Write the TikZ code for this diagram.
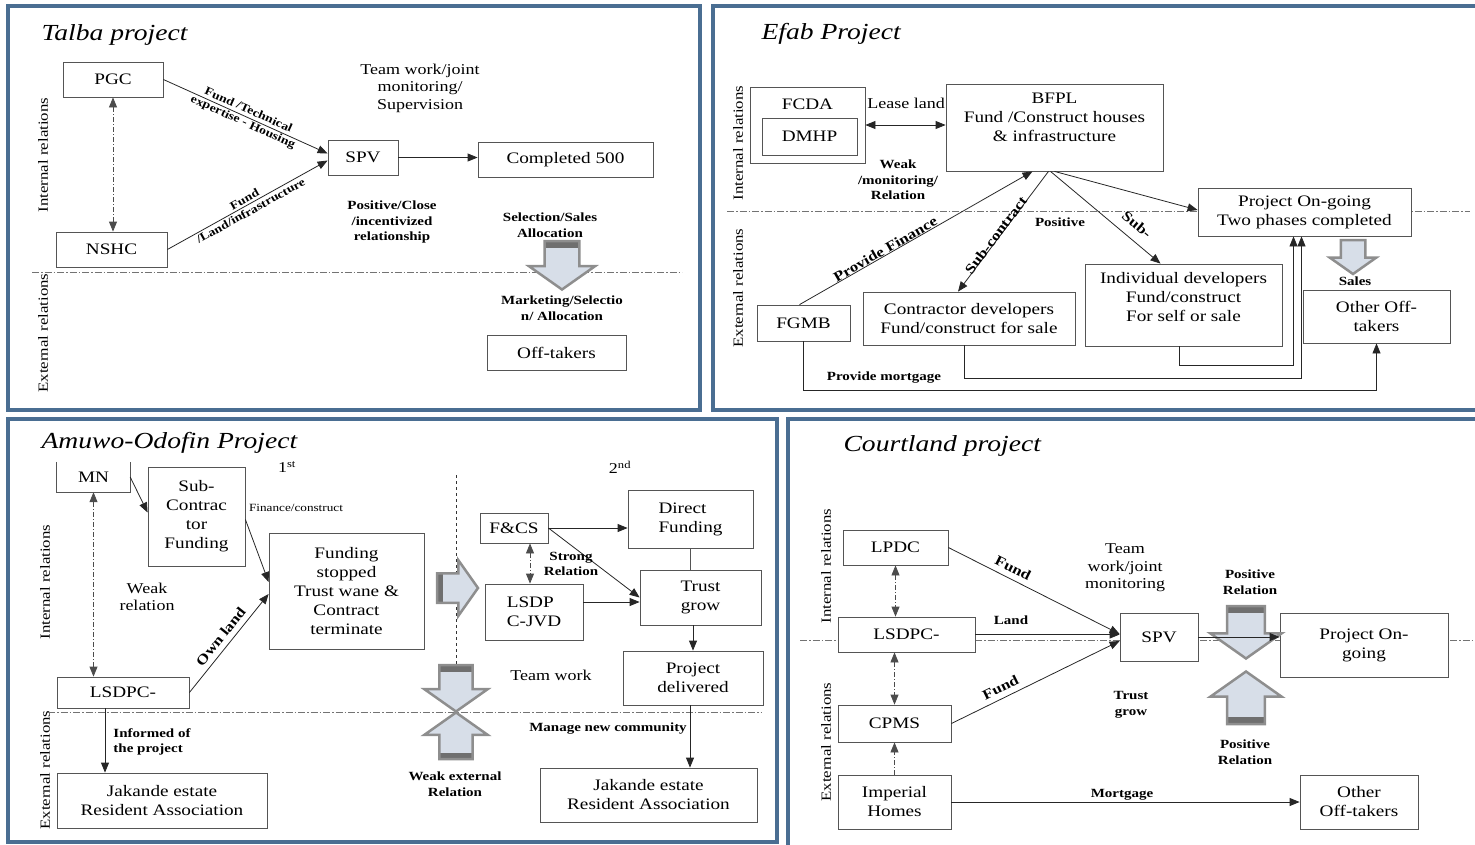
\documentclass[tikz,border=0pt]{standalone}
\usepackage{fontspec}
\setmainfont{Liberation Serif}[FakeStretch=1.2]
\usetikzlibrary{positioning, arrows.meta, calc}
\definecolor{FrameBlue}{HTML}{4A6E92}
\definecolor{ArrFill}{HTML}{D7DEE8}
\definecolor{ArrEdge}{HTML}{8E8E8E}
\definecolor{BandGray}{HTML}{6F6F6F}
\definecolor{BoxLine}{HTML}{555555}
\newcommand\boxfont{\fontsize{16}{19}\selectfont}
\newcommand\txtfont{\fontsize{15}{17.5}\selectfont}
\newcommand\lblfont{\fontsize{12.5}{15.5}\selectfont\bfseries}
\newcommand\slblfont{\fontsize{14}{16}\selectfont\bfseries}
\newcommand\flblfont{\fontsize{11.5}{13}\selectfont\bfseries}
\newcommand\finefont{\fontsize{11}{13}\selectfont}
\newcommand\ttlfont{\fontsize{23}{27}\selectfont\itshape}
\newcommand\relfont{\fontsize{14}{16}\selectfont}

\begin{document}
\begin{tikzpicture}[
  x=1pt, y=-1pt,
  box/.style={draw=BoxLine, fill=white, line width=0.8pt, align=center, font=\boxfont, inner sep=2pt},
  txt/.style={font=\txtfont, align=center},
  lbl/.style={font=\lblfont, align=center},
  slbl/.style={font=\slblfont, sloped, align=center},
  flbl/.style={font=\flblfont, sloped, align=center},
  ttl/.style={font=\ttlfont, anchor=west},
  rel/.style={font=\relfont, rotate=90},
  arr/.style={draw=black!85, line width=0.8pt, -{Triangle[length=10pt, width=8pt]}},
  darr/.style={draw=black!85, line width=0.8pt, {Triangle[length=10pt, width=8pt]}-{Triangle[length=10pt, width=8pt]}},
  dd/.style={darr, draw=black!70, dash pattern=on 5pt off 2pt on 1pt off 2pt},
  dd1/.style={arr, draw=black!70, dash pattern=on 5pt off 2pt on 1pt off 2pt},
  sep/.style={draw=black!55, line width=0.8pt, dash pattern=on 7pt off 2pt on 1.5pt off 2pt},
  frame/.style={draw=FrameBlue, line width=3.5pt},
  pics/blockarr/.style={code={
    \fill[ArrFill] (0,-18) -- (26,-18) -- (26,-34) -- (50,0) -- (26,34) -- (26,18) -- (0,18) -- cycle;
    \fill[#1] (0,-18) rectangle (7,18);
    \draw[ArrEdge, line width=2.5pt, line join=miter] (0,-18) -- (26,-18) -- (26,-34) -- (50,0) -- (26,34) -- (26,18) -- (0,18) -- cycle;
  }},
]
  \useasboundingbox (0,0) rectangle (1475,844);

  % Talba project
  \draw[frame] (8,6) rectangle (700,410);
  \node[ttl] (tTitle) at (38,35) {Talba project};
  \node[rel] (tIn) at (43,155) {Internal relations};
  \node[rel] (tEx) at (43,333) {External relations};
  \draw[sep] (32,272) -- (682,272);

  \node[box, minimum width=100pt, minimum height=35pt] (tPGC) at (113,79.5) {PGC};
  \node[box, minimum width=111pt, minimum height=35pt] (tNSHC) at (111.5,249.5) {NSHC};
  \node[box, minimum width=70pt, minimum height=35pt] (tSPV) at (363,157.5) {SPV};
  \node[box, minimum width=175pt, minimum height=35pt] (tDone) at (565.5,159.5) {Completed 500};
  \node[box, minimum width=139pt, minimum height=35pt] (tOff) at (556.5,352.5) {Off-takers};

  \draw[dd] (tPGC.south) -- (tPGC.south |- tNSHC.north);
  \draw[arr] (tPGC.east) -- node[flbl] {Fund /Technical\\expertise - Housing} ([yshift=4pt]tSPV.west);
  \draw[arr] (tNSHC.east) -- node[flbl] {Fund\\/Land/infrastructure} ([yshift=-3pt]tSPV.west);
  \draw[arr] (tSPV.east) -- (tSPV.east -| tDone.west);

  \node[txt] (tTeam) at (420,88) {Team work/joint\\monitoring/\\Supervision};
  \node[lbl] (tPos) at (392,222) {Positive/Close\\/incentivized\\relationship};
  \node[lbl] (tSel) at (550,225) {Selection/Sales\\Allocation};
  \pic[rotate=-90, scale=0.97] at (562,241) {blockarr=BandGray};
  \node[lbl] (tMkt) at (562,308) {Marketing/Selectio\\n/ Allocation};

  % Efab project
  \draw[frame] (713,6) rectangle (1490,410);
  \node[ttl] (eTitle) at (758,34) {Efab Project};
  \node[rel] (eIn) at (738,143) {Internal relations};
  \node[rel] (eEx) at (738,288) {External relations};
  \draw[sep] (727,211) -- (1470,211);

  \node[box, minimum width=115pt, minimum height=76pt,
    label={[font=\boxfont, anchor=north, yshift=-9pt]north:FCDA}] (eFCDA) at (807.5,125) {};
  \node[box, minimum width=95pt, minimum height=37pt] (eDMHP) at (809.5,136.5) {DMHP};
  \node[box, minimum width=217pt, minimum height=87pt, text depth=21pt] (eBFPL) at (1054.5,127.5) {BFPL\\Fund /Construct houses\\\& infrastructure};
  \node[box, minimum width=213pt, minimum height=48pt] (eGo) at (1304.5,212) {Project On-going\\Two phases completed};
  \node[box, minimum width=93pt, minimum height=36pt] (eFGMB) at (803.5,323) {FGMB};
  \node[box, minimum width=212pt, minimum height=53pt] (eCon) at (969,318.5) {Contractor developers\\Fund/construct for sale};
  \node[box, minimum width=197pt, minimum height=82pt, text depth=17pt] (eInd) at (1183.5,305) {Individual developers\\Fund/construct\\For self or sale};
  \node[box, minimum width=147pt, minimum height=53pt] (eOff) at (1376.5,316.5) {Other Off-\\takers};

  \node[txt] (eLease) at (906,103) {Lease land};
  \draw[darr] (eFCDA.east) -- (eFCDA.east -| eBFPL.west);
  \node[lbl] (eWeak) at (898,180) {Weak\\/monitoring/\\Relation};

  \draw[arr] ([xshift=-4pt]eFGMB.north) -- node[slbl, above=-3pt, pos=0.38] {Provide Finance} ([xshift=-22pt]eBFPL.south);
  \draw[arr] ([xshift=-6pt]eBFPL.south) -- node[slbl, above=-5pt, pos=0.55] {Sub-contract} ([xshift=-11pt]eCon.north);
  \draw[arr] ([xshift=-4pt]eBFPL.south) -- node[slbl, above=6pt, pos=0.7] {Sub-} ([xshift=-23pt]eInd.north);
  \draw[arr] (eBFPL.south) -- ([yshift=2pt]eGo.west);
  \node[lbl] (ePos) at (1060,222) {Positive};

  \pic[rotate=-90, scale=0.68] at (1353,240) {blockarr=ArrFill};
  \node[lbl] (eSales) at (1355,281) {Sales};

  \draw[arr] ([xshift=-4pt]eInd.south) -- ++(0,19) -| ([xshift=-11pt]eGo.south);
  \draw[arr] ([xshift=-5pt]eCon.south) -- ++(0,33) -| ([xshift=-3pt]eGo.south);
  \draw[arr] (eFGMB.south) -- ++(0,49) -| (eOff.south);
  \node[lbl] (eMort) at (884,378) {Provide mortgage};

  % Amuwo-Odofin project
  \draw[frame] (8,419) rectangle (777,842);
  \node[ttl] (aTitle) at (38,443) {Amuwo-Odofin Project};
  \node[rel] (aIn) at (45,582) {Internal relations};
  \node[rel] (aEx) at (45,770) {External relations};
  \draw[sep] (48,712) -- (762,712);
  \draw[black!80, line width=0.7pt, dashed] (456,475) -- (456,712);

  \node[minimum width=73pt, minimum height=30pt, font=\boxfont] (aMN) at (93.5,477) {MN};
  \draw[BoxLine, line width=0.8pt] (aMN.north west) -- (aMN.south west) -- (aMN.south east) -- (aMN.north east);
  \node[box, minimum width=97pt, minimum height=99pt] (aSub) at (196.5,516.5) {Sub-\\Contrac\\tor\\Funding};
  \node[box, minimum width=155pt, minimum height=116pt] (aStop) at (346.5,591) {Funding\\stopped\\Trust wane \&\\Contract\\terminate};
  \node[box, minimum width=132pt, minimum height=31pt] (aLSD) at (123,692.5) {LSDPC-};
  \node[box, minimum width=210pt, minimum height=55pt] (aJak) at (162,800.5) {Jakande estate\\Resident Association};

  \node[txt] (aFirst) at (287,467) {1\textsuperscript{st}};
  \node[font=\finefont] (aFin) at (296,508) {Finance/construct};
  \node[txt] (aWeak) at (147,597) {Weak\\relation};

  \draw[arr] (aMN.east) -- ([yshift=4pt]aSub.west);
  \draw[arr] ([yshift=-3pt]aSub.east) -- ([yshift=9pt]aStop.west);
  \draw[arr] (aLSD.east) -- node[slbl, above=2pt] {Own land} ([yshift=-3pt]aStop.west);
  \draw[dd] (aMN.south) -- (aMN.south |- aLSD.north);
  \draw[arr] ([xshift=-18pt]aLSD.south) -- ([xshift=-18pt]aLSD.south |- aJak.north);
  \node[lbl, align=left] (aInf) at (152,742) {Informed of\\the project};

  \pic[scale=0.82] at (437,588) {blockarr=BandGray};
  \pic[rotate=-90, scale=0.93] at (456,665) {blockarr=BandGray};
  \pic[rotate=90, scale=0.93] at (456,759) {blockarr=BandGray};
  \node[lbl] (aWeakx) at (455,784) {Weak external\\Relation};

  \node[txt] (aSecond) at (620,467) {2\textsuperscript{nd}};
  \node[box, minimum width=68pt, minimum height=30pt] (aFCS) at (514,528) {F\&CS};
  \node[box, minimum width=125pt, minimum height=58pt, align=left] (aDir) at (690.5,519) {Direct\\Funding};
  \node[box, minimum width=98pt, minimum height=56pt, align=left] (aJVD) at (534,612) {LSDP\\C-JVD};
  \node[box, minimum width=121pt, minimum height=55pt] (aTrust) at (700.5,597.5) {Trust\\grow};
  \node[box, minimum width=140pt, minimum height=54pt] (aDel) at (693,678) {Project\\delivered};
  \node[box, minimum width=217pt, minimum height=54pt] (aJak2) at (648.5,795) {Jakande estate\\Resident Association};

  \draw[arr] (aFCS.east) -- (aFCS.east -| aDir.west);
  \draw[arr] (aFCS.east) -- (aTrust.west);
  \draw[arr] ([yshift=10pt]aJVD.east) -- ([yshift=10pt]aJVD.east -| aTrust.west);
  \draw[dd] ([xshift=16pt]aFCS.south) -- ([xshift=16pt]aFCS.south |- aJVD.north);
  \draw[BoxLine, line width=0.8pt] (aDir.south) -- (aDir.south |- aTrust.north);
  \draw[arr] (aDel.north |- aTrust.south) -- (aDel.north);
  \draw[arr] ([xshift=-3pt]aDel.south) -- ([xshift=-3pt]aDel.south |- aJak2.north);

  \node[lbl] (aStrong) at (571,564) {Strong\\Relation};
  \node[txt] (aTeam) at (551,675) {Team work};
  \node[lbl] (aManage) at (608,729) {Manage new community};

  % Courtland project
  \draw[frame] (788,419) rectangle (1490,850);
  \node[ttl] (cTitle) at (840,446) {Courtland project};
  \node[rel] (cIn) at (826,566) {Internal relations};
  \node[rel] (cEx) at (826,742) {External relations};
  \draw[sep] (800,640) -- (1472,640);

  \node[box, minimum width=105pt, minimum height=35pt] (cLPDC) at (895.5,547.5) {LPDC};
  \node[box, minimum width=137pt, minimum height=35pt] (cLSD) at (906.5,634.5) {LSDPC-};
  \node[box, minimum width=113pt, minimum height=37pt] (cCPMS) at (894.5,723.5) {CPMS};
  \node[box, minimum width=113pt, minimum height=54pt] (cImp) at (894.5,802) {Imperial\\Homes};
  \node[box, minimum width=78pt, minimum height=48pt] (cSPV) at (1159,637) {SPV};
  \node[box, minimum width=168pt, minimum height=64pt] (cGo) at (1364,645) {Project On-\\going};
  \node[box, minimum width=118pt, minimum height=54pt] (cOff) at (1359,802) {Other\\Off-takers};

  \draw[dd] (cLPDC.south) -- (cLPDC.south |- cLSD.north);
  \draw[dd] (cCPMS.north |- cLSD.south) -- (cCPMS.north);
  \draw[dd1] (cImp.north) -- (cCPMS.south);
  \draw[arr] (cLPDC.east) -- node[slbl, above=2pt, pos=0.35] {Fund} ([yshift=3pt]cSPV.west);
  \draw[arr] (cLSD.east) -- (cLSD.east -| cSPV.west);
  \draw[arr] (cCPMS.east) -- node[slbl, above=2pt, pos=0.32] {Fund} ([yshift=-4pt]cSPV.west);
  \draw[arr] (cImp.east) -- (cImp.east -| cOff.west);

  \pic[rotate=-90, scale=1.05] at (1246,606) {blockarr=BandGray};
  \pic[rotate=90, scale=1.05] at (1246,724) {blockarr=BandGray};
  \draw[arr] (cSPV.east) -- (cSPV.east -| cGo.west);

  \node[txt] (cTeam) at (1125,568) {Team\\work/joint\\monitoring};
  \node[lbl] (cLand) at (1011,620) {Land};
  \node[lbl] (cTrust) at (1131,705) {Trust\\grow};
  \node[lbl] (cPos1) at (1250,582) {Positive\\Relation};
  \node[lbl] (cPos2) at (1245,752) {Positive\\Relation};
  \node[lbl] (cMort) at (1122,795) {Mortgage};
\end{tikzpicture}
\end{document}
